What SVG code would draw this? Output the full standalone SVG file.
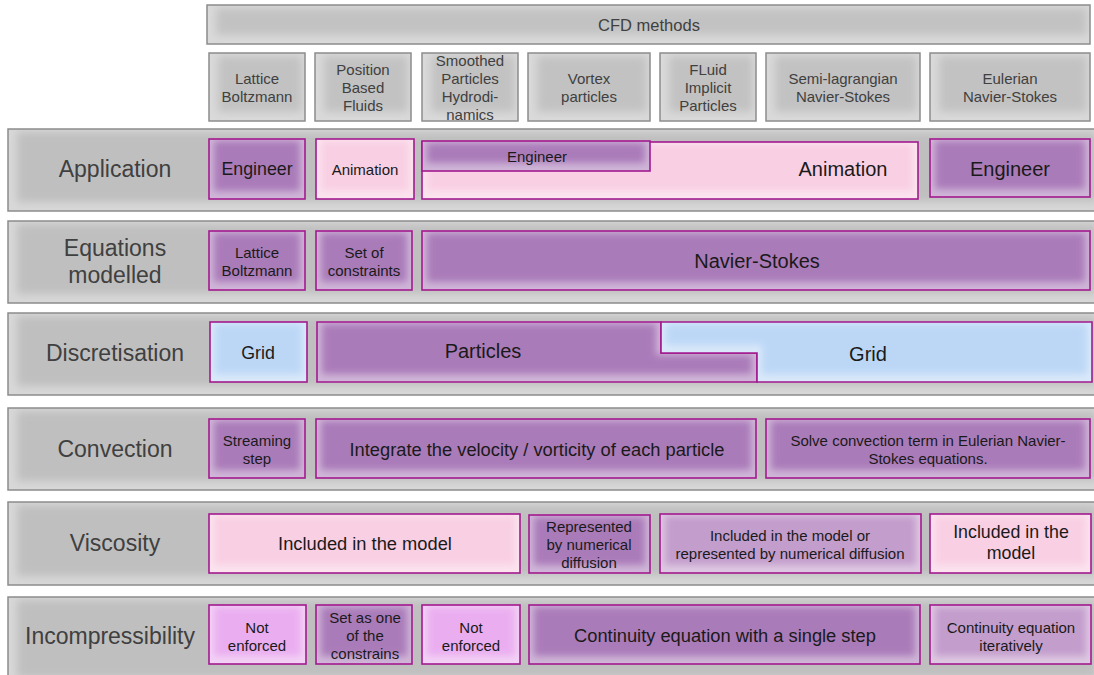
<svg xmlns="http://www.w3.org/2000/svg" width="1094" height="675" viewBox="0 0 1094 675">
  <defs>
    <!-- soft inner shading: lighter rim, blurred core of the fill colour -->
    <filter id="soft" x="0" y="0" width="1" height="1" color-interpolation-filters="sRGB">
      <feComponentTransfer in="SourceGraphic" result="rim">
        <feFuncR type="linear" slope="0.55" intercept="0.45"/>
        <feFuncG type="linear" slope="0.55" intercept="0.45"/>
        <feFuncB type="linear" slope="0.55" intercept="0.45"/>
      </feComponentTransfer>
      <feMorphology in="SourceGraphic" operator="erode" radius="5" result="core"/>
      <feOffset in="core" dy="-3" result="coreUp"/>
      <feGaussianBlur in="coreUp" stdDeviation="3.5" result="coreBlur"/>
      <feComposite in="coreBlur" in2="SourceAlpha" operator="in" result="coreClip"/>
      <feMerge>
        <feMergeNode in="rim"/>
        <feMergeNode in="coreClip"/>
      </feMerge>
    </filter>
    <filter id="softGrey" x="0" y="0" width="1" height="1" color-interpolation-filters="sRGB">
      <feComponentTransfer in="SourceGraphic" result="rim">
        <feFuncR type="linear" slope="0.6" intercept="0.4"/>
        <feFuncG type="linear" slope="0.6" intercept="0.4"/>
        <feFuncB type="linear" slope="0.6" intercept="0.4"/>
      </feComponentTransfer>
      <feMorphology in="SourceGraphic" operator="erode" radius="6" result="core"/>
      <feOffset in="core" dx="3" dy="-3" result="coreUp"/>
      <feGaussianBlur in="coreUp" stdDeviation="4" result="coreBlur"/>
      <feComposite in="coreBlur" in2="SourceAlpha" operator="in" result="coreClip"/>
      <feMerge>
        <feMergeNode in="rim"/>
        <feMergeNode in="coreClip"/>
      </feMerge>
    </filter>
    <style>
      text { font-family: "Liberation Sans", Arial, sans-serif; text-anchor: middle; dominant-baseline: central; }
      .band { fill: #bfbfbf; filter: url(#softGrey); }
      .bandLine { fill: none; stroke: #8c8c8c; stroke-width: 1.5; }
      .head { fill: #c2c2c2; filter: url(#softGrey); }
      .headLine { fill: none; stroke: #8c8c8c; stroke-width: 1.5; }
      .rowLabel { font-size: 23px; fill: #404040; }
      .headText { font-size: 15px; fill: #404040; }
      .title { font-size: 16.5px; }
      .cell { filter: url(#soft); }
      .line { fill: none; stroke: #a3198f; stroke-width: 1.6; }
      .purple { fill: #aa7bb9; }
      .mauve { fill: #c39dcc; }
      .pink { fill: #f9cfe3; }
      .violet { fill: #eaaef0; }
      .blue { fill: #bcd7f6; }
      .t14 { font-size: 15px; fill: #1a1a1a; }
      .t16 { font-size: 17.8px; fill: #1a1a1a; }
      .t18 { font-size: 18.3px; fill: #1a1a1a; }
      .t19 { font-size: 20px; fill: #1a1a1a; }
    </style>
  </defs>

  <!-- column headers -->
  <g id="cfd-methods">
    <rect class="head" x="207" y="5" width="883" height="39"/>
    <rect class="headLine" x="207" y="5" width="883" height="39"/>
    <text class="headText title" x="649" y="25">CFD methods</text>
  </g>
  <g id="m-lattice">
    <rect class="head" x="209" y="53" width="96" height="68"/>
    <rect class="headLine" x="209" y="53" width="96" height="68"/>
    <text class="headText" x="257" y="78">Lattice</text>
    <text class="headText" x="257" y="96">Boltzmann</text>
  </g>
  <g id="m-pbf">
    <rect class="head" x="315" y="53" width="96" height="68"/>
    <rect class="headLine" x="315" y="53" width="96" height="68"/>
    <text class="headText" x="363" y="69">Position</text>
    <text class="headText" x="363" y="87">Based</text>
    <text class="headText" x="363" y="105">Fluids</text>
  </g>
  <g id="m-sph">
    <rect class="head" x="422" y="53" width="96" height="68"/>
    <rect class="headLine" x="422" y="53" width="96" height="68"/>
    <text class="headText" x="470" y="60">Smoothed</text>
    <text class="headText" x="470" y="78">Particles</text>
    <text class="headText" x="470" y="96">Hydrodi-</text>
    <text class="headText" x="470" y="114">namics</text>
  </g>
  <g id="m-vortex">
    <rect class="head" x="528" y="53" width="122" height="68"/>
    <rect class="headLine" x="528" y="53" width="122" height="68"/>
    <text class="headText" x="589" y="78">Vortex</text>
    <text class="headText" x="589" y="96">particles</text>
  </g>
  <g id="m-flip">
    <rect class="head" x="660" y="53" width="96" height="68"/>
    <rect class="headLine" x="660" y="53" width="96" height="68"/>
    <text class="headText" x="708" y="69">FLuid</text>
    <text class="headText" x="708" y="87">Implicit</text>
    <text class="headText" x="708" y="105">Particles</text>
  </g>
  <g id="m-semilag">
    <rect class="head" x="766" y="53" width="154" height="68"/>
    <rect class="headLine" x="766" y="53" width="154" height="68"/>
    <text class="headText" x="843" y="78">Semi-lagrangian</text>
    <text class="headText" x="843" y="96">Navier-Stokes</text>
  </g>
  <g id="m-eulerian">
    <rect class="head" x="930" y="53" width="160" height="68"/>
    <rect class="headLine" x="930" y="53" width="160" height="68"/>
    <text class="headText" x="1010" y="78">Eulerian</text>
    <text class="headText" x="1010" y="96">Navier-Stokes</text>
  </g>

  <!-- row: Application -->
  <g id="row-application">
    <rect class="band" x="8" y="129" width="1092" height="82"/>
    <rect class="bandLine" x="8" y="129" width="1092" height="82"/>
    <text class="rowLabel" x="115" y="169">Application</text>
  </g>
  <g id="app-lattice">
    <rect class="cell purple" x="209" y="139" width="96" height="60"/>
    <rect class="line" x="209" y="139" width="96" height="60"/>
    <text class="t16" x="257" y="169">Engineer</text>
  </g>
  <g id="app-pbf">
    <rect class="cell pink" x="316" y="139" width="98" height="60"/>
    <rect class="line" x="316" y="139" width="98" height="60"/>
    <text class="t14" x="365" y="169">Animation</text>
  </g>
  <g id="app-animation">
    <rect class="cell pink" x="422" y="142" width="496" height="57"/>
    <rect class="line" x="422" y="142" width="496" height="57"/>
    <text class="t19" x="843" y="169">Animation</text>
  </g>
  <g id="app-engineer-sph">
    <rect class="cell purple" x="422" y="141" width="228" height="30"/>
    <rect class="line" x="422" y="141" width="228" height="30"/>
    <text class="t14" x="537" y="156">Engineer</text>
  </g>
  <g id="app-eulerian">
    <rect class="cell purple" x="930" y="139" width="160" height="58"/>
    <rect class="line" x="930" y="139" width="160" height="58"/>
    <text class="t19" x="1010" y="169">Engineer</text>
  </g>

  <!-- row: Equations modelled -->
  <g id="row-equations">
    <rect class="band" x="8" y="221" width="1092" height="82"/>
    <rect class="bandLine" x="8" y="221" width="1092" height="82"/>
    <text class="rowLabel" x="115" y="248">Equations</text>
    <text class="rowLabel" x="115" y="275">modelled</text>
  </g>
  <g id="eq-lattice">
    <rect class="cell purple" x="209" y="231" width="96" height="59"/>
    <rect class="line" x="209" y="231" width="96" height="59"/>
    <text class="t14" x="257" y="252">Lattice</text>
    <text class="t14" x="257" y="270">Boltzmann</text>
  </g>
  <g id="eq-constraints">
    <rect class="cell purple" x="316" y="231" width="96" height="59"/>
    <rect class="line" x="316" y="231" width="96" height="59"/>
    <text class="t14" x="364" y="252">Set of</text>
    <text class="t14" x="364" y="270">constraints</text>
  </g>
  <g id="eq-navier-stokes">
    <rect class="cell purple" x="422" y="231" width="668" height="59"/>
    <rect class="line" x="422" y="231" width="668" height="59"/>
    <text class="t19" x="757" y="261">Navier-Stokes</text>
  </g>

  <!-- row: Discretisation -->
  <g id="row-discretisation">
    <rect class="band" x="8" y="313" width="1092" height="82"/>
    <rect class="bandLine" x="8" y="313" width="1092" height="82"/>
    <text class="rowLabel" x="115" y="353">Discretisation</text>
  </g>
  <g id="disc-grid-lattice">
    <rect class="cell blue" x="210" y="322" width="97" height="60"/>
    <rect class="line" x="210" y="322" width="97" height="60"/>
    <text class="t16" x="258" y="353">Grid</text>
  </g>
  <g id="disc-particles">
    <path class="cell purple" d="M317 322 H661 V353 H757 V382 H317 Z"/>
    <path class="line" d="M317 322 H661 V353 H757 V382 H317 Z"/>
    <text class="t19" x="483" y="351">Particles</text>
  </g>
  <g id="disc-grid">
    <path class="cell blue" d="M661 322 H1092 V382 H757 V353 H661 Z"/>
    <path class="line" d="M661 322 H1092 V382 H757 V353 H661 Z"/>
    <text class="t19" x="868" y="354">Grid</text>
  </g>

  <!-- row: Convection -->
  <g id="row-convection">
    <rect class="band" x="8" y="408" width="1092" height="82"/>
    <rect class="bandLine" x="8" y="408" width="1092" height="82"/>
    <text class="rowLabel" x="115" y="449">Convection</text>
  </g>
  <g id="conv-streaming">
    <rect class="cell purple" x="209" y="419" width="96" height="59"/>
    <rect class="line" x="209" y="419" width="96" height="59"/>
    <text class="t14" x="257" y="440">Streaming</text>
    <text class="t14" x="257" y="458">step</text>
  </g>
  <g id="conv-integrate">
    <rect class="cell purple" x="316" y="419" width="440" height="59"/>
    <rect class="line" x="316" y="419" width="440" height="59"/>
    <text class="t18" x="537" y="449">Integrate the velocity / vorticity of each particle</text>
  </g>
  <g id="conv-eulerian">
    <rect class="cell purple" x="766" y="419" width="324" height="59"/>
    <rect class="line" x="766" y="419" width="324" height="59"/>
    <text class="t14" x="928" y="440">Solve convection term in Eulerian Navier-</text>
    <text class="t14" x="928" y="458">Stokes equations.</text>
  </g>

  <!-- row: Viscosity -->
  <g id="row-viscosity">
    <rect class="band" x="8" y="502" width="1092" height="83"/>
    <rect class="bandLine" x="8" y="502" width="1092" height="83"/>
    <text class="rowLabel" x="115" y="543">Viscosity</text>
  </g>
  <g id="visc-model">
    <rect class="cell pink" x="209" y="514" width="311" height="59"/>
    <rect class="line" x="209" y="514" width="311" height="59"/>
    <text class="t18" x="365" y="543">Included in the model</text>
  </g>
  <g id="visc-numerical">
    <rect class="cell purple" x="529" y="515" width="121" height="58"/>
    <rect class="line" x="529" y="515" width="121" height="58"/>
    <text class="t14" x="589" y="526">Represented</text>
    <text class="t14" x="589" y="544">by numerical</text>
    <text class="t14" x="589" y="562">diffusion</text>
  </g>
  <g id="visc-either">
    <rect class="cell mauve" x="660" y="514" width="261" height="59"/>
    <rect class="line" x="660" y="514" width="261" height="59"/>
    <text class="t14" x="790" y="535">Included in the model or</text>
    <text class="t14" x="790" y="553">represented by numerical diffusion</text>
  </g>
  <g id="visc-eulerian">
    <rect class="cell pink" x="930" y="514" width="161" height="59"/>
    <rect class="line" x="930" y="514" width="161" height="59"/>
    <text class="t16" x="1011" y="532">Included in the</text>
    <text class="t16" x="1011" y="553">model</text>
  </g>

  <!-- row: Incompressibility -->
  <g id="row-incompressibility">
    <rect class="band" x="8" y="597" width="1092" height="90"/>
    <rect class="bandLine" x="8" y="597" width="1092" height="90"/>
    <text class="rowLabel" x="110" y="636">Incompressibility</text>
  </g>
  <g id="inc-lattice">
    <rect class="cell violet" x="209" y="605" width="97" height="59"/>
    <rect class="line" x="209" y="605" width="97" height="59"/>
    <text class="t14" x="257" y="627">Not</text>
    <text class="t14" x="257" y="645">enforced</text>
  </g>
  <g id="inc-constraints">
    <rect class="cell purple" x="316" y="605" width="96" height="59"/>
    <rect class="line" x="316" y="605" width="96" height="59"/>
    <text class="t14" x="365" y="617">Set as one</text>
    <text class="t14" x="365" y="635">of the</text>
    <text class="t14" x="365" y="653">constrains</text>
  </g>
  <g id="inc-sph">
    <rect class="cell violet" x="422" y="605" width="98" height="59"/>
    <rect class="line" x="422" y="605" width="98" height="59"/>
    <text class="t14" x="471" y="627">Not</text>
    <text class="t14" x="471" y="645">enforced</text>
  </g>
  <g id="inc-single-step">
    <rect class="cell purple" x="529" y="605" width="391" height="59"/>
    <rect class="line" x="529" y="605" width="391" height="59"/>
    <text class="t18" x="725" y="635">Continuity equation with a single step</text>
  </g>
  <g id="inc-iterative">
    <rect class="cell mauve" x="930" y="605" width="161" height="59"/>
    <rect class="line" x="930" y="605" width="161" height="59"/>
    <text class="t14" x="1011" y="627">Continuity equation</text>
    <text class="t14" x="1011" y="645">iteratively</text>
  </g>

  <!-- no connectors in this table-style diagram -->
  <g id="connectors"/>
</svg>
